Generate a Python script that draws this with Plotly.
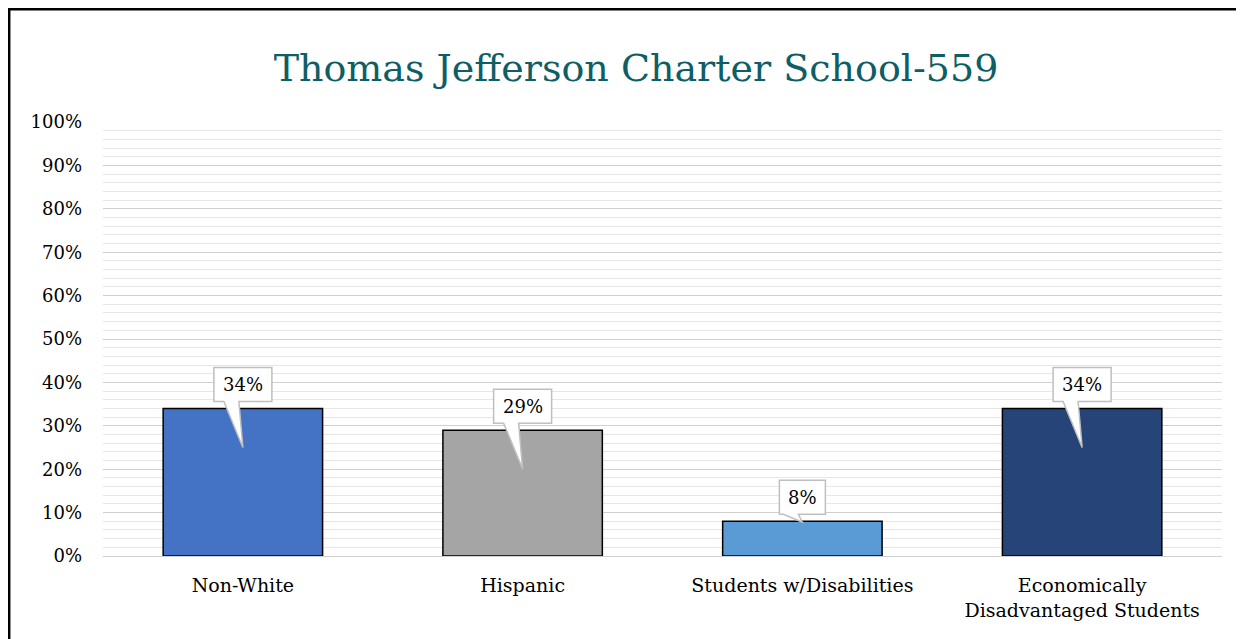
import plotly.graph_objects as go

categories = ["Non-White", "Hispanic", "Students w/Disabilities", "Economically<br>Disadvantaged Students"]
values = [0.34, 0.29, 0.08, 0.34]
labels = ["34%", "29%", "8%", "34%"]
colors = ["#4472C4", "#A5A5A5", "#5B9BD5", "#264478"]
tick_vals = [i / 10 for i in range(11)]
tick_text = [f"{i*10}%" for i in range(11)]
title = "Thomas Jefferson Charter School-559"

OFF = 8  # page body margin
W, H = 1244 - OFF, 639 - OFF
ML, MR, MT, MB = 95, 22, 114, 83
PW, PH = W - ML - MR, H - MT - MB
FONT = "DejaVu Serif"

fig = go.Figure()
fig.add_trace(go.Bar(
    x=categories, y=values,
    marker=dict(color=colors, line=dict(color="#000000", width=1.5)),
    width=0.57, hoverinfo="skip",
))

shapes = []
annotations = []
for cat, v, lab in zip(categories, values, labels):
    half = (12 * len(lab) + 22) / 2
    bot, top = 7, 41
    depth = 39 if v > 0.15 else 1
    path = (f"M {-half},{bot} L -19,{bot} L 0,{-depth} L -4,{bot} "
            f"L {half},{bot} L {half},{top} L {-half},{top} Z")
    shapes.append(dict(type="path", xref="x", yref="y", xsizemode="pixel", ysizemode="pixel",
                       xanchor=cat, yanchor=v, path=path, fillcolor="#FFFFFF",
                       line=dict(color="#BFBFBF", width=1.5), layer="above"))
    annotations.append(dict(x=cat, y=v, xref="x", yref="y", text=lab, showarrow=False,
                            yshift=(bot + top) / 2, yanchor="middle",
                            font=dict(family=FONT, size=18, color="#000000")))

# outer chart border (left and top visible), page pixel coords
def px2x(px):
    return (px - OFF - ML) / PW

def py2y(py):
    return (OFF + H - MB - py) / PH

shapes.append(dict(type="path", xref="paper", yref="paper",
                   path=f"M {px2x(9.2)},{py2y(680)} L {px2x(9.2)},{py2y(9.3)} L {px2x(1290)},{py2y(9.3)}",
                   line=dict(color="#000000", width=2.5), layer="above"))

fig.update_layout(
    width=W, height=H,
    margin=dict(l=ML, r=MR, t=MT, b=MB),
    paper_bgcolor="#FFFFFF", plot_bgcolor="#FFFFFF",
    showlegend=False,
    title=dict(text=title, x=(636 - OFF) / W, xref="container", xanchor="center",
               y=1 - (68 - OFF) / H, yref="container", yanchor="middle",
               font=dict(family=FONT, size=38, color="#0E5E66")),
    font=dict(family=FONT, size=18, color="#000000"),
    shapes=shapes, annotations=annotations,
)
fig.update_yaxes(range=[0, 1], tickvals=tick_vals, ticktext=tick_text,
                 showgrid=True, gridcolor="#D0D0D0", gridwidth=1.3,
                 minor=dict(dtick=0.02, showgrid=True, gridcolor="#E6E6E6", gridwidth=1),
                 zeroline=False, showline=False, ticks="", ticklabelstandoff=20,
                 tickfont=dict(family=FONT, size=18, color="#000000"), fixedrange=True)
fig.update_xaxes(showline=True, linecolor="#D0D0D0", linewidth=1.3, ticks="",
                 ticklabelstandoff=12, tickfont=dict(family=FONT, size=19, color="#000000"),
                 fixedrange=True)

fig.write_html("out.html")
